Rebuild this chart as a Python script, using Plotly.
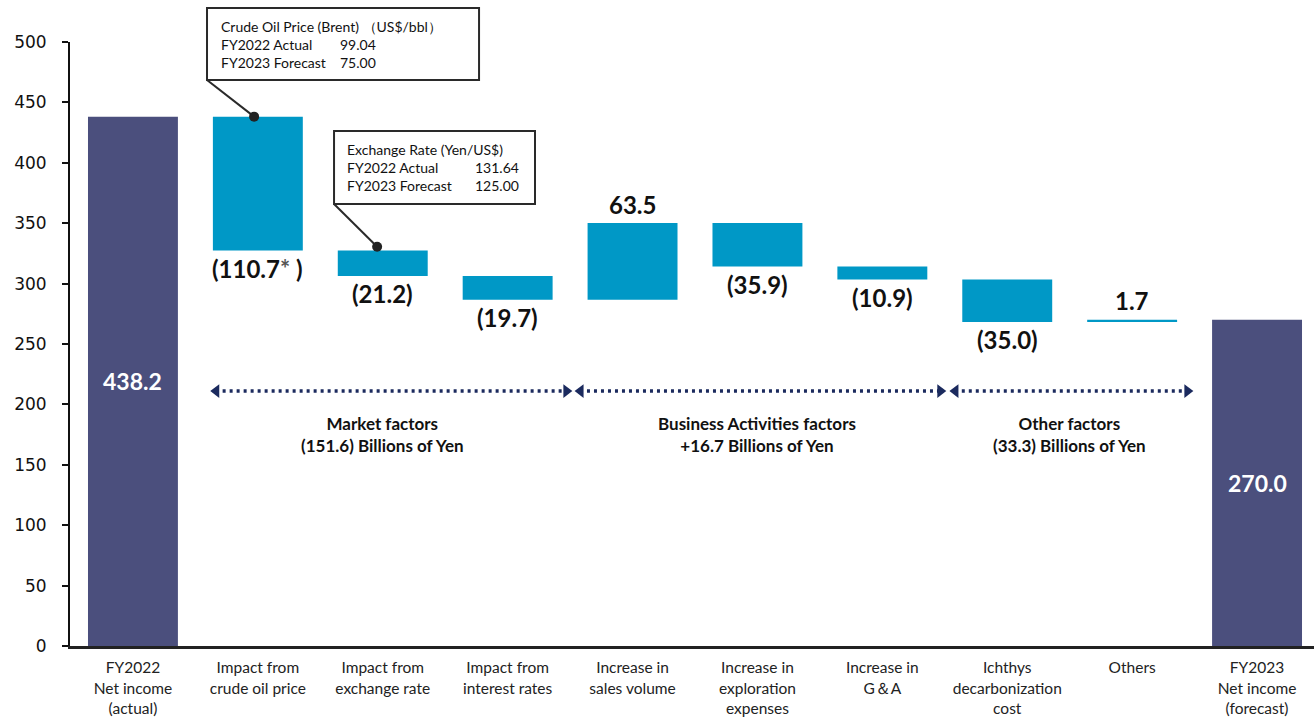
import plotly.graph_objects as go

# ---- data -------------------------------------------------------------
categories = [
    "FY2022<br>Net income<br>(actual)",
    "Impact from<br>crude oil price",
    "Impact from<br>exchange rate",
    "Impact from<br>interest rates",
    "Increase in<br>sales volume",
    "Increase in<br>exploration<br>expenses",
    "Increase in<br>G＆A",
    "Ichthys<br>decarbonization<br>cost",
    "Others",
    "FY2023<br>Net income<br>(forecast)",
]
start_value = 438.2
deltas = [-110.7, -21.2, -19.7, 63.5, -35.9, -10.9, -35.0, 1.7]
label_suffix = {1: "<span style='color:#555'>*</span> "}

group_names = ["Market factors", "Business Activities factors", "Other factors"]
group_members = [[1, 2, 3], [4, 5, 6], [7, 8]]
group_spans = [(0.622, 3.515), (3.539, 6.509), (6.54, 8.487)]

y_ticks = [0, 50, 100, 150, 200, 250, 300, 350, 400, 450, 500]

crude_box = ["Crude Oil Price (Brent) （US$/bbl）", "FY2022 Actual", "FY2023 Forecast"]
crude_vals = ["99.04", "75.00"]
fx_box = ["Exchange Rate (Yen/US$)", "FY2022 Actual", "FY2023 Forecast"]
fx_vals = ["131.64", "125.00"]

# ---- styling ----------------------------------------------------------
TOTAL_COLOR = "#4B4F7D"
DELTA_COLOR = "#0098C6"
ARROW_COLOR = "#1B2A5E"
TEXT_FONT = "Lato, 'Open Sans', sans-serif"
XR = [-0.504, 9.456]
YR = [0, 500]


def px_x(v):
    return (v - XR[0]) / (XR[1] - XR[0])


def px_y(v):
    return (v - YR[0]) / (YR[1] - YR[0])


n = len(categories)
xs = list(range(n))
measures = ["absolute"] + ["relative"] * len(deltas) + ["total"]
values = [start_value] + deltas + [0]

# running levels for label placement
levels = [start_value]
for d in deltas:
    levels.append(round(levels[-1] + d, 1))
end_value = levels[-1]

fig = go.Figure()
fig.add_trace(go.Waterfall(
    x=xs,
    y=values,
    measure=measures,
    width=0.72,
    connector=dict(visible=False),
    increasing=dict(marker=dict(color=DELTA_COLOR, line=dict(width=0))),
    decreasing=dict(marker=dict(color=DELTA_COLOR, line=dict(width=0))),
    totals=dict(marker=dict(color=TOTAL_COLOR, line=dict(width=0))),
    hoverinfo="skip",
    showlegend=False,
))

annotations = []

# totals labelled inside the bars
for xi, v in [(0, start_value), (n - 1, end_value)]:
    annotations.append(dict(
        x=xi, y=v / 2, xref="x", yref="y", text=f"<b>{v:.1f}</b>",
        showarrow=False, font=dict(family=TEXT_FONT, size=23, color="white"),
    ))

# delta labels: below for decreases, above for increases
for i, d in enumerate(deltas):
    xi = i + 1
    before = levels[i]
    after = levels[i + 1]
    if d < 0:
        txt = f"({abs(d):.1f}{label_suffix.get(xi, '')})"
        y = min(before, after)
        shift = -18
    else:
        txt = f"{d:.1f}"
        y = max(before, after)
        shift = 19
    annotations.append(dict(
        x=xi, y=y, xref="x", yref="y", text=f"<b>{txt}</b>",
        showarrow=False, yshift=shift, yanchor="middle",
        font=dict(family=TEXT_FONT, size=24, color="#111"),
    ))

# factor group arrows and captions
ARROW_Y = 211
for name, members, (a, b) in zip(group_names, group_members, group_spans):
    fig.add_trace(go.Scatter(
        x=[a + 0.04, b - 0.04], y=[ARROW_Y, ARROW_Y], mode="lines",
        line=dict(color=ARROW_COLOR, width=3.5, dash="3px,4px"),
        hoverinfo="skip", showlegend=False,
    ))
    fig.add_trace(go.Scatter(
        x=[a + 0.045, b - 0.045], y=[ARROW_Y, ARROW_Y], mode="markers",
        marker=dict(symbol=["triangle-left", "triangle-right"], size=12,
                    color=ARROW_COLOR, line=dict(width=0)),
        hoverinfo="skip", showlegend=False, cliponaxis=False,
    ))
    s = round(sum(deltas[m - 1] for m in members), 1)
    amount = f"({abs(s):.1f})" if s < 0 else f"+{s:.1f}"
    annotations.append(dict(
        x=sum(members) / len(members), y=175, xref="x", yref="y",
        text=f"<b>{name}<br>{amount} Billions of Yen</b>",
        showarrow=False, align="center",
        font=dict(family=TEXT_FONT, size=17, color="#111"),
    ))

# callout boxes with leader lines to the bars (placed in paper space so
# nothing above the axis range gets hidden)
callouts = [
    dict(box=(0.593, 2.771, 468.5, 528.1), lines=crude_box, vals=crude_vals,
         lx=0.689, vx=1.640, vanchor="left", rows=[513.2, 498.3, 483.4],
         dot=(0.97, start_value)),
    dict(box=(1.610, 3.219, 365.9, 426.3), lines=fx_box, vals=fx_vals,
         lx=1.700, vx=3.110, vanchor="right", rows=[411.4, 395.7, 381.6],
         dot=(1.955, levels[1] + 3)),
]
shapes = []
for c in callouts:
    x0, x1, y0, y1 = c["box"]
    shapes.append(dict(
        type="rect", xref="paper", yref="paper",
        x0=px_x(x0), x1=px_x(x1), y0=px_y(y0), y1=px_y(y1),
        line=dict(color="#2a2a2a", width=2), fillcolor="white", layer="above",
    ))
    fig.add_trace(go.Scatter(
        x=[x0, c["dot"][0]], y=[y0, c["dot"][1]], mode="lines",
        line=dict(color="#2a2a2a", width=2),
        hoverinfo="skip", showlegend=False,
    ))
    fig.add_trace(go.Scatter(
        x=[c["dot"][0]], y=[c["dot"][1]], mode="markers",
        marker=dict(size=10, color="#222"),
        hoverinfo="skip", showlegend=False, cliponaxis=False,
    ))
    for txt, ry in zip(c["lines"], c["rows"]):
        annotations.append(dict(
            x=px_x(c["lx"]), y=px_y(ry), xref="paper", yref="paper",
            text=txt, showarrow=False, xanchor="left", yanchor="middle",
            font=dict(family=TEXT_FONT, size=14, color="#111"),
        ))
    for txt, ry in zip(c["vals"], c["rows"][1:]):
        annotations.append(dict(
            x=px_x(c["vx"]), y=px_y(ry), xref="paper", yref="paper",
            text=txt, showarrow=False, xanchor=c["vanchor"], yanchor="middle",
            font=dict(family=TEXT_FONT, size=14, color="#111"),
        ))

fig.update_layout(
    width=1314, height=720,
    margin=dict(l=70, r=0, t=42, b=74),
    paper_bgcolor="white", plot_bgcolor="white",
    annotations=annotations, shapes=shapes,
    xaxis=dict(
        range=XR, tickmode="array", tickvals=xs, ticktext=categories,
        showgrid=False, zeroline=False, showline=True,
        linecolor="#222", linewidth=2.5, ticks="",
        tickfont=dict(family=TEXT_FONT, size=15.5, color="#222"),
        ticklabelstandoff=6,
    ),
    yaxis=dict(
        range=YR, tickmode="array", tickvals=y_ticks,
        showgrid=False, zeroline=False, showline=True,
        linecolor="#111", linewidth=2, ticks="outside", ticklen=6,
        tickwidth=2, tickcolor="#111",
        tickfont=dict(family="DejaVu Sans", size=17, color="#111"),
        ticklabelstandoff=12,
    ),
)

fig.write_html("out.html")
